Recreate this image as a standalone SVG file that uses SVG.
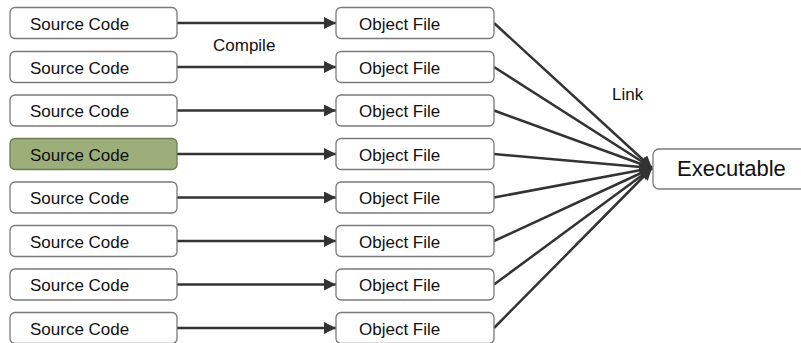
<svg xmlns="http://www.w3.org/2000/svg" width="801" height="343" viewBox="0 0 801 343">
  <style>
    .box { fill: #ffffff; stroke: #7a7a7a; stroke-width: 1.3; }
    .hot { fill: #9cae7a; stroke: #6d7b55; stroke-width: 1.3; }
    .lbl { font-family: "Liberation Sans", Arial, sans-serif; font-size: 17px; fill: #111111; }
    .big { font-family: "Liberation Sans", Arial, sans-serif; font-size: 22px; fill: #111111; }
    .wire { stroke: #333333; stroke-width: 2.5; fill: none; }
  </style>
  <defs>
    <marker id="head" viewBox="0 0 10 10" refX="10" refY="5" markerWidth="5.6" markerHeight="4.8" markerUnits="strokeWidth" orient="auto">
      <path d="M0,0 L10,5 L0,10 z" fill="#333333"/>
    </marker>
  </defs>
  <rect width="801" height="343" fill="#ffffff"/>

  <!-- connectors: compile arrows and link arrows -->
  <g id="connectors">
    <line class="wire" x1="177" y1="23" x2="336" y2="23" marker-end="url(#head)"/>
    <line class="wire" x1="177" y1="67" x2="336" y2="67" marker-end="url(#head)"/>
    <line class="wire" x1="177" y1="110.5" x2="336" y2="110.5" marker-end="url(#head)"/>
    <line class="wire" x1="177" y1="154" x2="336" y2="154" marker-end="url(#head)"/>
    <line class="wire" x1="177" y1="197.5" x2="336" y2="197.5" marker-end="url(#head)"/>
    <line class="wire" x1="177" y1="241" x2="336" y2="241" marker-end="url(#head)"/>
    <line class="wire" x1="177" y1="284.5" x2="336" y2="284.5" marker-end="url(#head)"/>
    <line class="wire" x1="177" y1="328" x2="336" y2="328" marker-end="url(#head)"/>

    <line class="wire" x1="494" y1="23" x2="652" y2="168" marker-end="url(#head)"/>
    <line class="wire" x1="494" y1="67" x2="652" y2="168" marker-end="url(#head)"/>
    <line class="wire" x1="494" y1="110.5" x2="652" y2="168" marker-end="url(#head)"/>
    <line class="wire" x1="494" y1="154" x2="652" y2="168" marker-end="url(#head)"/>
    <line class="wire" x1="494" y1="197.5" x2="652" y2="168" marker-end="url(#head)"/>
    <line class="wire" x1="494" y1="241" x2="652" y2="168" marker-end="url(#head)"/>
    <line class="wire" x1="494" y1="284.5" x2="652" y2="168" marker-end="url(#head)"/>
    <line class="wire" x1="494" y1="328" x2="652" y2="168" marker-end="url(#head)"/>

    <text class="lbl" x="213" y="51">Compile</text>
    <text class="lbl" x="612" y="100">Link</text>
  </g>

  <!-- source files -->
  <g id="src1"><rect class="box" x="10" y="7.5" width="167" height="31" rx="5"/><text class="lbl" x="30" y="29.5">Source Code</text></g>
  <g id="src2"><rect class="box" x="10" y="51.5" width="167" height="31" rx="5"/><text class="lbl" x="30" y="73.5">Source Code</text></g>
  <g id="src3"><rect class="box" x="10" y="95" width="167" height="31" rx="5"/><text class="lbl" x="30" y="117">Source Code</text></g>
  <g id="src4"><rect class="hot" x="10" y="138.5" width="167" height="31" rx="5"/><text class="lbl" x="30" y="160.5">Source Code</text></g>
  <g id="src5"><rect class="box" x="10" y="182" width="167" height="31" rx="5"/><text class="lbl" x="30" y="204">Source Code</text></g>
  <g id="src6"><rect class="box" x="10" y="225.5" width="167" height="31" rx="5"/><text class="lbl" x="30" y="247.5">Source Code</text></g>
  <g id="src7"><rect class="box" x="10" y="269" width="167" height="31" rx="5"/><text class="lbl" x="30" y="291">Source Code</text></g>
  <g id="src8"><rect class="box" x="10" y="312.5" width="167" height="31" rx="5"/><text class="lbl" x="30" y="334.5">Source Code</text></g>

  <!-- object files -->
  <g id="obj1"><rect class="box" x="336" y="7.5" width="158" height="31" rx="5"/><text class="lbl" x="359" y="29.5">Object File</text></g>
  <g id="obj2"><rect class="box" x="336" y="51.5" width="158" height="31" rx="5"/><text class="lbl" x="359" y="73.5">Object File</text></g>
  <g id="obj3"><rect class="box" x="336" y="95" width="158" height="31" rx="5"/><text class="lbl" x="359" y="117">Object File</text></g>
  <g id="obj4"><rect class="box" x="336" y="138.5" width="158" height="31" rx="5"/><text class="lbl" x="359" y="160.5">Object File</text></g>
  <g id="obj5"><rect class="box" x="336" y="182" width="158" height="31" rx="5"/><text class="lbl" x="359" y="204">Object File</text></g>
  <g id="obj6"><rect class="box" x="336" y="225.5" width="158" height="31" rx="5"/><text class="lbl" x="359" y="247.5">Object File</text></g>
  <g id="obj7"><rect class="box" x="336" y="269" width="158" height="31" rx="5"/><text class="lbl" x="359" y="291">Object File</text></g>
  <g id="obj8"><rect class="box" x="336" y="312.5" width="158" height="31" rx="5"/><text class="lbl" x="359" y="334.5">Object File</text></g>

  <!-- linked output -->
  <g id="exe"><rect class="box" x="653" y="149" width="160" height="40" rx="6"/><text class="big" x="677" y="176">Executable</text></g>
</svg>
